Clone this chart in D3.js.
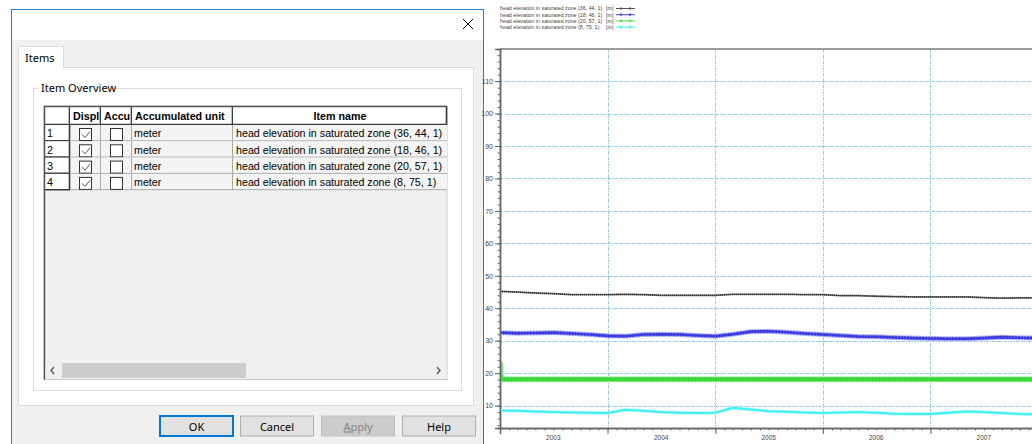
<!DOCTYPE html>
<html lang="en">
<head>
<meta charset="UTF-8">
<title>head elevation in saturated zone</title>
<script src="https://d3js.org/d3.v7.min.js"></script>
<style>
  body { margin: 0; background: #fff; }
  svg { display: block; }
</style>
</head>
<body>
<script>
var width = 1032, height = 444;

// ---- data ----
var years = ["2003", "2004", "2005", "2006", "2007"];
var yTicks = [10, 20, 30, 40, 50, 60, 70, 80, 90, 100, 110];
var seriesNames = [
  "head elevation in saturated zone (36, 44, 1)",
  "head elevation in saturated zone (18, 46, 1)",
  "head elevation in saturated zone (20, 57, 1)",
  "head elevation in saturated zone (8, 75, 1)"
];
var itemIds = ["1", "2", "3", "4"];
var itemUnits = ["meter", "meter", "meter", "meter"];

var dates = [
  "2003-01-01", "2003-03-01", "2003-05-01", "2003-07-01", "2003-09-01", "2003-11-01",
  "2004-01-01", "2004-03-01", "2004-05-01", "2004-07-01", "2004-09-01", "2004-11-01",
  "2005-01-01", "2005-03-01", "2005-05-01", "2005-07-01", "2005-09-01", "2005-11-01",
  "2006-01-01", "2006-03-01", "2006-05-01", "2006-07-01", "2006-09-01", "2006-11-01",
  "2007-01-01", "2007-03-01", "2007-05-01", "2007-07-01", "2007-09-01", "2007-11-01",
  "2008-01-01"
];
var head36 = [45.2, 45.0, 44.7, 44.5, 44.2, 44.2, 44.2, 44.3, 44.2, 44.0, 44.0, 44.0,
              44.0, 44.3, 44.3, 44.3, 44.3, 44.2, 44.2, 43.9, 43.9, 43.7, 43.6, 43.5,
              43.5, 43.5, 43.5, 43.3, 43.1, 43.2, 43.2];
var head18 = [32.5, 32.3, 32.4, 32.5, 32.2, 31.9, 31.5, 31.4, 31.9, 32.0, 31.9, 31.6,
              31.4, 32.0, 32.8, 32.9, 32.6, 32.2, 31.9, 31.6, 31.3, 31.2, 31.0, 30.8,
              30.7, 30.6, 30.6, 30.8, 31.1, 30.9, 30.8];
var head8 = [8.5, 8.4, 8.2, 8.0, 7.9, 7.8, 7.7, 8.7, 8.4, 8.0, 7.8, 7.7,
             7.8, 9.3, 8.8, 8.3, 8.1, 7.9, 7.7, 7.9, 8.0, 7.8, 7.5, 7.4,
             7.4, 7.8, 8.2, 8.0, 7.7, 7.4, 7.3];
var dates20 = ["2003-01-01", "2003-01-04", "2008-01-01"];
var head20 = [23.5, 18.1, 18.1];

var parse = d3.timeParse("%Y-%m-%d");

var svg = d3.select("body").append("svg").attr("width", width).attr("height", height);

// ================= dialog =================
var dlg = svg.append("g").attr("font-family", "'Noto Sans', 'Segoe UI', sans-serif").attr("font-size", 11.5);

dlg.append("rect").attr("x", 11.5).attr("y", 9.5).attr("width", 472).attr("height", 445)
  .attr("fill", "#f0f0f0").attr("stroke", "#1b82d4");
dlg.append("rect").attr("x", 12).attr("y", 10).attr("width", 471).attr("height", 30).attr("fill", "#fff");
dlg.append("path").attr("d", "M463,19L473,29M473,19L463,29").attr("stroke", "#111").attr("stroke-width", 1);

// tab page
dlg.append("rect").attr("x", 18.5).attr("y", 67.5).attr("width", 455).attr("height", 338)
  .attr("fill", "#fff").attr("stroke", "#d9d9d9");
dlg.append("rect").attr("x", 18.5).attr("y", 46.5).attr("width", 45).attr("height", 21)
  .attr("fill", "#fff").attr("stroke", "#d9d9d9");
dlg.append("line").attr("x1", 19).attr("x2", 63).attr("y1", 67.5).attr("y2", 67.5).attr("stroke", "#fff");
dlg.append("text").attr("x", 25).attr("y", 62).attr("font-size", 11).text("Items");

// group box
dlg.append("rect").attr("x", 33.5).attr("y", 88.5).attr("width", 428).attr("height", 302)
  .attr("fill", "none").attr("stroke", "#dcdcdc");
dlg.append("rect").attr("x", 39).attr("y", 81).attr("width", 74).attr("height", 14).attr("fill", "#fff");
dlg.append("text").attr("x", 41).attr("y", 92).attr("font-size", 11).text("Item Overview");

// grid table
var tbl = dlg.append("g").attr("font-family", "'Liberation Sans', Arial, sans-serif").attr("font-size", 10.7);
var colX = [44, 70, 101, 132, 233, 447];
var headTop = 106, headBot = 125, rowH = 16.3;
var colHeads = ["", "Displ", "Accu", "Accumulated unit", "Item name"];

tbl.append("rect").attr("x", 44).attr("y", 106).attr("width", 403).attr("height", 273.5)
  .attr("fill", "#f0f0f0").attr("stroke", "#c8c8c8");

var defs = svg.append("defs");
colHeads.forEach(function(h, i) {
  defs.append("clipPath").attr("id", "col" + i)
    .append("rect").attr("x", colX[i]).attr("y", headTop).attr("width", colX[i + 1] - colX[i] - 1).attr("height", 100);
});

// header cells
colHeads.forEach(function(h, i) {
  tbl.append("rect").attr("x", colX[i]).attr("y", headTop).attr("width", colX[i + 1] - colX[i]).attr("height", headBot - headTop)
    .attr("fill", "#fff");
  tbl.append("path").attr("d", "M" + (colX[i + 1] - 0.5) + "," + headTop + "V" + headBot + "M" + colX[i] + "," + (headBot - 0.5) + "H" + colX[i + 1])
    .attr("stroke", "#3a3a3a").attr("stroke-width", 1.6).attr("fill", "none");
  var t = tbl.append("text").attr("y", headBot - 5.5).attr("font-weight", "bold").attr("clip-path", "url(#col" + i + ")").text(h);
  if (i === 4) t.attr("x", (colX[i] + colX[i + 1]) / 2).attr("text-anchor", "middle");
  else t.attr("x", colX[i] + 3);
});

// rows
itemIds.forEach(function(id, r) {
  var top = headBot + r * rowH, bot = top + rowH;
  tbl.append("rect").attr("x", colX[0]).attr("y", top).attr("width", colX[1] - colX[0]).attr("height", rowH).attr("fill", "#fff");
  tbl.append("rect").attr("x", colX[1]).attr("y", top).attr("width", colX[5] - colX[1]).attr("height", rowH).attr("fill", "#f4f4f4");
  tbl.append("path").attr("d", "M" + (colX[1] - 0.5) + "," + top + "V" + bot + "M" + colX[0] + "," + (bot - 0.5) + "H" + colX[1])
    .attr("stroke", "#3a3a3a").attr("stroke-width", 1.6).attr("fill", "none");
  tbl.append("path").attr("d", "M" + colX[1] + "," + (bot - 0.5) + "H" + colX[5]
      + "M" + (colX[2] - 0.5) + "," + top + "V" + bot
      + "M" + (colX[3] - 0.5) + "," + top + "V" + bot
      + "M" + (colX[4] - 0.5) + "," + top + "V" + bot)
    .attr("stroke", "#a8a8a8").attr("stroke-width", 1).attr("fill", "none");
  tbl.append("text").attr("x", 47).attr("y", bot - 4).text(id);
  // checkboxes
  tbl.append("rect").attr("x", 79.5).attr("y", top + 3.5).attr("width", 12).attr("height", 12)
    .attr("fill", "#fff").attr("stroke", "#333");
  tbl.append("path").attr("d", "M82," + (top + 9.5) + "L85," + (top + 12.5) + "L90," + (top + 6.5))
    .attr("stroke", "#555").attr("fill", "none").attr("stroke-width", 1);
  tbl.append("rect").attr("x", 110.5).attr("y", top + 3.5).attr("width", 12).attr("height", 12)
    .attr("fill", "#fff").attr("stroke", "#333");
  tbl.append("text").attr("x", 134).attr("y", bot - 4).text(itemUnits[r]);
  tbl.append("text").attr("x", 236).attr("y", bot - 4).attr("clip-path", "url(#col4)").text(seriesNames[r]);
});
tbl.append("line").attr("x1", 44.5).attr("x2", 44.5).attr("y1", 106).attr("y2", 379.5).attr("stroke", "#555").attr("stroke-width", 1.5);
tbl.append("line").attr("x1", 44).attr("x2", 447).attr("y1", 106.5).attr("y2", 106.5).attr("stroke", "#555").attr("stroke-width", 1.5);

// horizontal scrollbar
tbl.append("rect").attr("x", 45.5).attr("y", 362).attr("width", 401).attr("height", 16).attr("fill", "#f0f0f0");
tbl.append("rect").attr("x", 62).attr("y", 363).attr("width", 184).attr("height", 15).attr("fill", "#cdcdcd");
tbl.append("path").attr("d", "M54,367L51,370.5L54,374M437,367L440,370.5L437,374")
  .attr("stroke", "#606060").attr("stroke-width", 1.5).attr("fill", "none");

// buttons
var buttons = [
  { label: "OK", x: 160, fill: "#e1e1e1", stroke: "#0078d7", sw: 2, color: "#000" },
  { label: "Cancel", x: 240.5, fill: "#e1e1e1", stroke: "#adadad", sw: 1, color: "#000" },
  { label: "Apply", x: 321.5, fill: "#cccccc", stroke: "#bfbfbf", sw: 1, color: "#838383" },
  { label: "Help", x: 402.5, fill: "#e1e1e1", stroke: "#adadad", sw: 1, color: "#000" }
];
buttons.forEach(function(b) {
  dlg.append("rect").attr("x", b.x).attr("y", 416).attr("width", 73).attr("height", 20)
    .attr("fill", b.fill).attr("stroke", b.stroke).attr("stroke-width", b.sw);
  var t = dlg.append("text").attr("x", b.x + 36.5).attr("y", 430.5).attr("text-anchor", "middle")
    .attr("font-size", 11).attr("fill", b.color);
  if (b.label === "Apply") {
    t.append("tspan").attr("text-decoration", "underline").text("A");
    t.append("tspan").text("pply");
  } else t.text(b.label);
});

// ================= chart =================
var x0 = 500, x1 = 1038, yTop = 49, yBot = 428;
var x = d3.scaleTime().domain([parse("2003-01-01"), parse("2008-01-01")]).range([x0, x1]);
var y = d3.scaleLinear().domain([3.1, 119.9]).range([yBot, yTop]);

var chart = svg.append("g").attr("font-family", "'Liberation Sans', Arial, sans-serif");

// grid
var gridStyle = function(sel) {
  return sel.attr("stroke", "#9cc6ee").attr("stroke-width", 1).attr("stroke-dasharray", "3,1,1,1");
};
gridStyle(chart.selectAll(".hg").data(yTicks).enter().append("line")
  .attr("x1", x0).attr("x2", width)
  .attr("y1", function(d) { return Math.round(y(d)) + 0.5; })
  .attr("y2", function(d) { return Math.round(y(d)) + 0.5; }));
gridStyle(chart.selectAll(".vg").data(years.slice(1)).enter().append("line")
  .attr("x1", function(d) { return Math.round(x(parse(d + "-01-01"))) + 0.5; })
  .attr("x2", function(d) { return Math.round(x(parse(d + "-01-01"))) + 0.5; })
  .attr("y1", yTop).attr("y2", yBot));

// top frame
chart.append("line").attr("x1", x0).attr("x2", width).attr("y1", yTop).attr("y2", yTop)
  .attr("stroke", "#9a9a9a").attr("stroke-width", 2);

// y axis
var yAxis = d3.axisLeft(y).tickValues(yTicks).tickSize(5).tickPadding(2).tickFormat(d3.format("d"));
var ya = chart.append("g").attr("transform", "translate(" + x0 + ",0)").call(yAxis);
var yMinor = d3.axisLeft(y).tickValues(d3.range(4, 120, 2)).tickSize(2.5).tickFormat("");
chart.append("g").attr("transform", "translate(" + x0 + ",0)").call(yMinor);

// x axis
var xAxis = d3.axisBottom(x).tickValues(years.slice(1).map(function(d) { return parse(d + "-01-01"); }))
  .tickSize(6).tickFormat("");
chart.append("g").attr("transform", "translate(0," + yBot + ")").call(xAxis);
var xMinor = d3.axisBottom(x).ticks(d3.timeMonth.every(1)).tickSize(2.5).tickFormat("");
chart.append("g").attr("transform", "translate(0," + yBot + ")").call(xMinor);
chart.selectAll(".domain").attr("stroke", "#666").attr("stroke-width", 1.5);
chart.selectAll(".tick line").attr("stroke", "#666");
ya.selectAll(".tick text").attr("font-size", 7).attr("fill", "#444");

chart.selectAll(".ylab").data(years).enter().append("text")
  .attr("x", function(d) { return x(d3.timeMonth.offset(parse(d + "-01-01"), 6)); })
  .attr("y", 440).attr("text-anchor", "middle").attr("font-size", 6.5).attr("fill", "#444")
  .text(function(d) { return d; });

// series
var series = [
  { dates: dates, values: head36, color: "#555", halo: "#b0b0b0", w: 1, hw: 1.8, dash: "1,1", dc: "#111", dw: 1.8 },
  { dates: dates, values: head18, color: "#4646e8", halo: "#bcbcfa", w: 2.6, hw: 5, dash: "1.5,1.5", dc: "#3030d0", dw: 3.4 },
  { dates: dates20, values: head20, color: "#40e040", halo: "#b4f0b4", w: 4, hw: 6, dash: "1,1.3", dc: "#2fc92f", dw: 4.6 },
  { dates: dates, values: head8, color: "#3ff0f5", halo: "#b8f8fb", w: 2, hw: 3.4, dash: null }
];
var clip = defs.append("clipPath").attr("id", "plot");
clip.append("rect").attr("x", x0 + 1).attr("y", yTop).attr("width", width - x0).attr("height", yBot - yTop);
var plot = chart.append("g").attr("clip-path", "url(#plot)");

series.forEach(function(s) {
  var pts = s.dates.map(function(d, i) { return [x(parse(d)), y(s.values[i])]; });
  var line = d3.line();
  plot.append("path").attr("d", line(pts)).attr("fill", "none").attr("stroke", s.halo).attr("stroke-width", s.hw);
  plot.append("path").attr("d", line(pts)).attr("fill", "none").attr("stroke", s.color).attr("stroke-width", s.w);
  if (s.dash) {
    plot.append("path").attr("d", line(pts)).attr("fill", "none").attr("stroke", s.dc)
      .attr("stroke-width", s.dw).attr("stroke-dasharray", s.dash).attr("opacity", 0.7);
  }
});

// legend
var legend = chart.append("g").attr("font-size", 5.3).attr("fill", "#444");
seriesNames.forEach(function(n, i) {
  var ly = 8.5 + i * 6.2;
  legend.append("text").attr("x", 500).attr("y", ly + 1.9).text(n);
  legend.append("text").attr("x", 606).attr("y", ly + 1.9).text("[m]");
  legend.append("line").attr("x1", 616).attr("x2", 635).attr("y1", ly).attr("y2", ly)
    .attr("stroke", series[i].color).attr("stroke-width", 1);
  [621, 630].forEach(function(px) {
    legend.append("path").attr("d", "M" + (px - 1.5) + "," + ly + "H" + (px + 1.5) + "M" + px + "," + (ly - 1.5) + "V" + (ly + 1.5))
      .attr("stroke", series[i].color).attr("stroke-width", 1);
  });
});
</script>
</body>
</html>
